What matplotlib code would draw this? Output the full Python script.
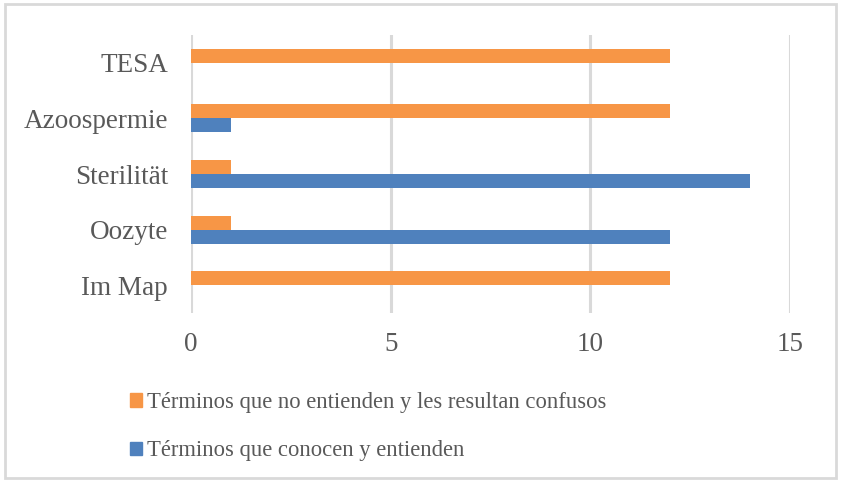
import matplotlib
matplotlib.use("Agg")
import matplotlib.pyplot as plt
from matplotlib.patches import Rectangle, Patch
import numpy as np

categories = ["Im Map", "Oozyte", "Sterilität", "Azoospermie", "TESA"]
conocen = [0, 12, 14, 1, 0]
confusos = [12, 1, 1, 12, 12]
label_conocen = "Términos que conocen y entienden"
label_confusos = "Términos que no entienden y les resultan confusos"
xticks = [0, 5, 10, 15]

ORANGE = "#F79646"
BLUE = "#4F81BD"
TEXT = "#595959"
GRID = "#D9D9D9"

plt.rcParams['font.family'] = ['Liberation Serif', 'DejaVu Serif']

fig = plt.figure(figsize=(8.41, 4.87), dpi=100)
ax = fig.add_axes([191/841, 1 - 313/487, (790 - 191)/841, (313 - 35)/487])

y = np.arange(len(categories))
h = 0.25
ax.barh(y - h/2, conocen, height=h, color=BLUE, label=label_conocen, zorder=3)
ax.barh(y + h/2, confusos, height=h, color=ORANGE, label=label_confusos, zorder=3)

ax.set_xlim(0, 15)
ax.set_ylim(-0.5, len(categories) - 0.5)
ax.set_xticks(xticks)
ax.set_yticks(y)
ax.set_yticklabels(categories)
ax.tick_params(axis='both', length=0, labelcolor=TEXT, labelsize=19.5)
ax.tick_params(axis='y', pad=16.5)
ax.tick_params(axis='x', pad=14)
ax.xaxis.grid(True, color=GRID, linewidth=2.2, zorder=0)
for s in ax.spines.values():
    s.set_visible(False)

handles = [Patch(color=ORANGE), Patch(color=BLUE)]
fig.legend(handles, [label_confusos, label_conocen], loc='upper left',
           bbox_to_anchor=(130/841, 1 - 392/487), frameon=False,
           borderpad=0, borderaxespad=0,
           fontsize=16.3, labelcolor=TEXT, handlelength=0.52, handleheight=0.52,
           handletextpad=0.25, labelspacing=1.2)

fig.patches.append(Rectangle((5/841, 1 - 478/487), (836 - 5)/841, (478 - 4)/487,
                             transform=fig.transFigure, fill=False,
                             edgecolor=GRID, linewidth=2))

fig.savefig("out.png", dpi=100)
